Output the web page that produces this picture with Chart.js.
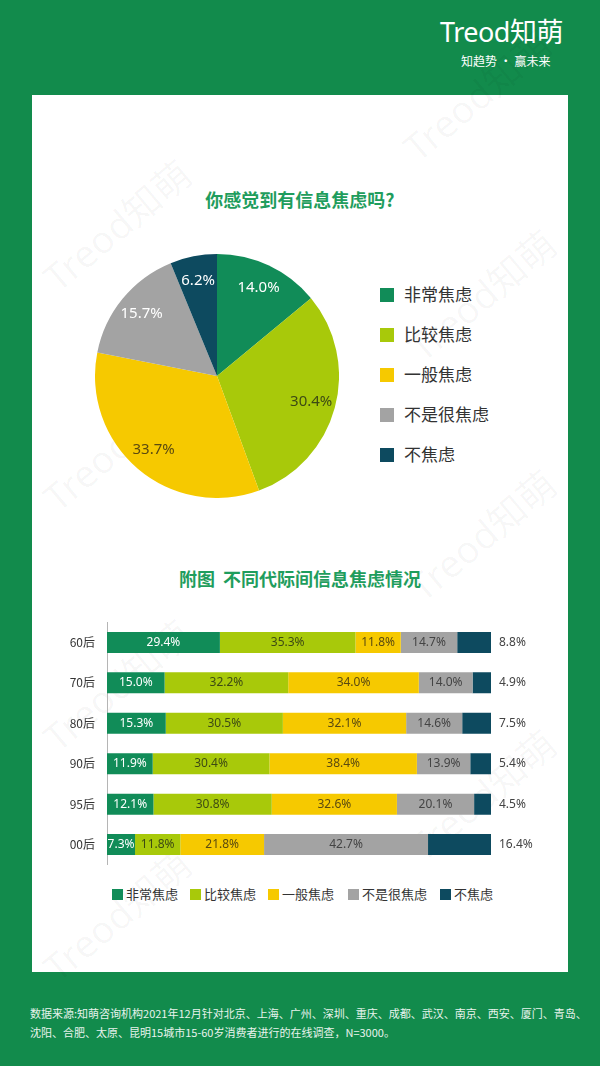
<!DOCTYPE html>
<html><head><meta charset="utf-8">
<script src="https://cdn.jsdelivr.net/npm/chart.js@4.4.1/dist/chart.umd.min.js"></script>
<style>
html,body{margin:0;padding:0;}
body{width:600px;height:1066px;background:#128b4c;position:relative;overflow:hidden;font-family:"Noto Sans CJK SC","Noto Sans",sans-serif;}
.abs{position:absolute;}
#card{left:32px;top:95px;width:536px;height:877px;background:#fff;}
.logo{left:440px;top:14px;color:#fff;font-family:"Noto Sans","Noto Sans CJK SC",sans-serif;font-size:27px;letter-spacing:-0.5px;line-height:36px;white-space:nowrap;}
.slogan{left:461px;top:53px;color:#fff;font-size:12px;line-height:16px;white-space:nowrap;}
.title{width:600px;left:0;text-align:center;color:#1f9d5d;font-weight:bold;font-size:18px;}
.lg{left:380px;font-size:17px;color:#333;line-height:22px;white-space:nowrap;}
.lg i{display:inline-block;width:14px;height:14px;margin-right:10px;vertical-align:-1px;}
.blg{top:885px;font-size:13px;color:#333;line-height:18px;white-space:nowrap;}
.blg i{display:inline-block;width:11px;height:11px;margin-right:3px;vertical-align:-1px;}
.foot{left:30px;top:1004px;color:#e8f3ec;font-size:11px;line-height:19px;white-space:nowrap;}
.wm{font-family:"Noto Sans","Noto Sans CJK SC",sans-serif;font-size:38px;transform:rotate(-40deg);transform-origin:left top;white-space:nowrap;pointer-events:none;}
</style></head>
<body>
<div class="abs logo">Treod知萌</div>
<div class="abs slogan">知趋势 · 赢未来</div>
<div id="card" class="abs"></div>
<div class="abs wm" style="left:30px;top:260px;color:rgba(0,0,0,0.035)">Treod知萌</div>
<div class="abs wm" style="left:390px;top:130px;color:rgba(0,0,0,0.035)">Treod知萌</div>
<div class="abs wm" style="left:30px;top:480px;color:rgba(0,0,0,0.035)">Treod知萌</div>
<div class="abs wm" style="left:395px;top:330px;color:rgba(0,0,0,0.035)">Treod知萌</div>
<div class="abs wm" style="left:395px;top:570px;color:rgba(0,0,0,0.035)">Treod知萌</div>
<div class="abs wm" style="left:30px;top:720px;color:rgba(0,0,0,0.035)">Treod知萌</div>
<div class="abs wm" style="left:395px;top:830px;color:rgba(0,0,0,0.035)">Treod知萌</div>
<div class="abs wm" style="left:30px;top:950px;color:rgba(0,0,0,0.035)">Treod知萌</div>
<div class="abs title" style="top:186px;">你感觉到有信息焦虑吗?</div>
<div class="abs" style="left:95px;top:254px;width:244px;height:244px;"><canvas id="pie"></canvas></div>
<div id="pieLegend"></div>
<div class="abs title" style="top:565px;">附图&nbsp;&nbsp;不同代际间信息焦虑情况</div>
<div class="abs" style="left:50px;top:603px;width:500px;height:281px;"><canvas id="bar"></canvas></div>
<div id="barLegend"></div>
<div class="abs foot">数据来源:知萌咨询机构2021年12月针对北京、上海、广州、深圳、重庆、成都、武汉、南京、西安、厦门、青岛、<br>沈阳、合肥、太原、昆明15城市15-60岁消费者进行的在线调查，N=3000。</div>
<script>
const categories = ["非常焦虑","比较焦虑","一般焦虑","不是很焦虑","不焦虑"];
const colors = ["#118c58","#a8c90a","#f6c900","#a3a3a3","#0d4a5f"];
const pieValues = [14.0,30.4,33.7,15.7,6.2];
const generations = ["60后","70后","80后","90后","95后","00后"];
const veryAnxious = [29.4,15.0,15.3,11.9,12.1,7.3];
const ratherAnxious = [35.3,32.2,30.5,30.4,30.8,11.8];
const normalAnxious = [11.8,34.0,32.1,38.4,32.6,21.8];
const notVeryAnxious = [14.7,14.0,14.6,13.9,20.1,42.7];
const notAnxious = [8.8,4.9,7.5,5.4,4.5,16.4];
const barSeries = [veryAnxious,ratherAnxious,normalAnxious,notVeryAnxious,notAnxious];
const pieLabelColors = ["#ffffff","#3d4a14","#5a4a10","#ffffff","#ffffff"];
const barLabelColors = ["#ffffff","#3d4a14","#5a4a10","#444444",null];

(function(){
  let h='';
  const tops=[283,323,363,403,443];
  categories.forEach((c,i)=>{h+=`<div class="abs lg" style="top:${tops[i]}px"><i style="background:${colors[i]}"></i>${c}</div>`;});
  document.getElementById('pieLegend').innerHTML=h;
  let b='';
  const lefts=[112,190,268,348,440];
  categories.forEach((c,i)=>{b+=`<div class="abs blg" style="left:${lefts[i]}px"><i style="background:${colors[i]}"></i>${c}</div>`;});
  document.getElementById('barLegend').innerHTML=b;
})();

const pieLabels = {
  id:'pieLabels',
  afterDatasetsDraw(chart){
    const ctx=chart.ctx;
    const meta=chart.getDatasetMeta(0);
    ctx.save();
    ctx.font='15px "Noto Sans","Noto Sans CJK SC",sans-serif';
    ctx.textAlign='center';ctx.textBaseline='middle';
    meta.data.forEach((arc,i)=>{
      const p=arc.getProps(['x','y','startAngle','endAngle','outerRadius'],true);
      const a=(p.startAngle+p.endAngle)/2;
      const r=p.outerRadius*0.8;
      ctx.fillStyle=pieLabelColors[i];
      ctx.fillText(pieValues[i].toFixed(1)+'%',p.x+Math.cos(a)*r,p.y+Math.sin(a)*r);
    });
    ctx.restore();
  }
};

new Chart(document.getElementById('pie'),{
  type:'pie',
  data:{labels:categories,datasets:[{data:pieValues,backgroundColor:colors,borderWidth:0}]},
  options:{responsive:true,maintainAspectRatio:false,animation:false,
    layout:{padding:0},
    plugins:{legend:{display:false},tooltip:{enabled:false}}},
  plugins:[pieLabels]
});

const barLabels = {
  id:'barLabels',
  afterDatasetsDraw(chart){
    const ctx=chart.ctx;
    ctx.save();
    ctx.textBaseline='middle';
    chart.data.datasets.forEach((ds,di)=>{
      const meta=chart.getDatasetMeta(di);
      meta.data.forEach((bar,bi)=>{
        const p=bar.getProps(['x','y','base'],true);
        const v=ds.data[bi];
        if(barLabelColors[di]){
          ctx.font='12px "Noto Sans","Noto Sans CJK SC",sans-serif';
          ctx.textAlign='center';
          ctx.fillStyle=barLabelColors[di];
          ctx.fillText(v.toFixed(1)+'%',(p.x+p.base)/2,p.y);
        } else {
          ctx.font='12px "Noto Sans","Noto Sans CJK SC",sans-serif';
          ctx.textAlign='left';
          ctx.fillStyle='#444';
          ctx.fillText(v.toFixed(1)+'%',chart.chartArea.right+8,p.y);
        }
      });
    });
    ctx.restore();
  }
};

new Chart(document.getElementById('bar'),{
  type:'bar',
  data:{labels:generations,datasets:barSeries.map((d,i)=>({label:categories[i],data:d,backgroundColor:colors[i],borderWidth:0,barPercentage:0.52,categoryPercentage:1}))},
  options:{indexAxis:'y',responsive:true,maintainAspectRatio:false,animation:false,
    layout:{padding:{left:0,right:59,top:2,bottom:0}},
    scales:{
      x:{stacked:true,min:0,max:100,display:false},
      y:{stacked:true,grid:{display:false,drawTicks:false},border:{display:true,color:'#b5b5b5',width:1},
         ticks:{color:'#333',font:{size:12,family:'"Noto Sans CJK SC","Noto Sans",sans-serif'},padding:12},
         afterFit(s){s.width=57;}}
    },
    plugins:{legend:{display:false},tooltip:{enabled:false}}},
  plugins:[barLabels]
});
</script>
</body></html>
